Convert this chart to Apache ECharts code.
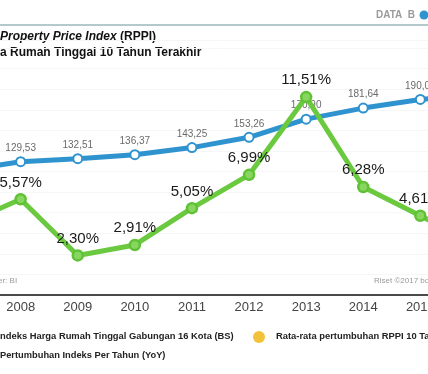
<!DOCTYPE html>
<html><head><meta charset="utf-8">
<script src="https://cdn.jsdelivr.net/npm/echarts@6/dist/echarts.min.js"></script>
<style>html,body{margin:0;padding:0;background:#fff;overflow:hidden;width:428px;height:374px;position:relative}#c{position:absolute;left:-65px;top:0;width:571px;height:374px}</style>
</head><body><div id="c"></div>
<script>
const years = ['2007','2008','2009','2010','2011','2012','2013','2014','2015','2016'];
const indexValues = [121.0, 129.53, 132.51, 136.37, 143.25, 153.26, 170.90, 181.64, 190.01, 195.2];
const yoyValues = [4.1, 5.57, 2.30, 2.91, 5.05, 6.99, 11.51, 6.28, 4.61, 2.9];
const titleLines = ['Property Price Index', '(RPPI)', 'a Rumah Tinggal 10 Tahun Terakhir'];
const legendTexts = ['ndeks Harga Rumah Tinggal Gabungan 16 Kota (BS)', 'Rata-rata pertumbuhan RPPI 10 Tahun', 'Pertumbuhan Indeks Per Tahun (YoY)'];

const fmt = v => v.toFixed(2).replace('.', ',');
const OX = 65; // offset of chart canvas relative to the page
const chart = echarts.init(document.getElementById('c'), null, {renderer:'canvas'});
const FONT = 'Liberation Sans, Arial, sans-serif';
chart.setOption({
  animation: false,
  backgroundColor: '#fff',
  grid: {left: 0, right: 0, top: 40, bottom: 79, containLabel: false},
  xAxis: {
    type: 'category', data: years, boundaryGap: true,
    axisLine: {lineStyle: {color: '#4a4a4a', width: 2}},
    axisTick: {show: false},
    axisLabel: {color: '#444', fontSize: 13, fontFamily: FONT, margin: 6, interval: 0}
  },
  yAxis: [
    {type: 'value', min: 0, max: 247.8, interval: 20, show: true,
      axisLine: {show: false}, axisTick: {show: false}, axisLabel: {show: false},
      splitLine: {show: true, lineStyle: {color: '#f6f6f6', width: 1}}},
    {type: 'value', min: 0, max: 14.83, show: false, splitLine: {show: false}}
  ],
  series: [
    {type: 'line', data: indexValues, yAxisIndex: 0, clip: false, z: 2,
      symbol: 'emptyCircle', symbolSize: 9,
      lineStyle: {color: '#2f93cf', width: 5},
      itemStyle: {color: '#2f93cf', borderColor: '#2f93cf', borderWidth: 3.5},
      label: {show: true, position: 'top', distance: 3, color: '#6a6a6a', fontSize: 10, fontFamily: FONT,
        formatter: p => fmt(p.value)}},
    {type: 'line', data: yoyValues, yAxisIndex: 1, clip: false, z: 3,
      symbol: 'circle', symbolSize: 10,
      lineStyle: {color: '#6ac93f', width: 5},
      itemStyle: {color: '#88d560', borderColor: '#5fc235', borderWidth: 2.5},
      label: {show: true, position: 'top', distance: 3, color: '#1a1a1a', fontSize: 15, fontFamily: FONT,
        formatter: p => fmt(p.value) + '%'}}
  ],
  graphic: [
    {type: 'rect', shape: {x: OX, y: 24, width: 428, height: 2}, style: {fill: '#b4c9cc'}},
    {type: 'text', left: OX + 376, top: 10, style: {text: 'DATA  B', fill: '#9a9a9a', font: 'bold 10px ' + FONT}},
    {type: 'circle', shape: {cx: OX + 424, cy: 15, r: 4.5}, style: {fill: '#2f93cf'}},
    {type: 'text', left: OX, top: 31, style: {rich: {i: {font: 'italic bold 12px ' + FONT, fill: '#111'}, b: {font: 'bold 12px ' + FONT, fill: '#111'}},
      text: '{i|' + titleLines[0] + '} {b|' + titleLines[1] + '}'}},
    {type: 'text', left: OX, top: 47, style: {text: titleLines[2], fill: '#111', font: 'bold 12px ' + FONT}},
    {type: 'text', left: OX - 2, top: 277, style: {text: 'er: BI', fill: '#999', font: '8px ' + FONT}},
    {type: 'text', left: OX + 374, top: 277, style: {text: 'Riset ©2017 bolasalju', fill: '#999', font: '8px ' + FONT}},
    {type: 'text', left: OX, top: 332, style: {text: legendTexts[0], fill: '#222', font: 'bold 9.4px ' + FONT}},
    {type: 'circle', shape: {cx: OX + 259, cy: 337, r: 6}, style: {fill: '#f2c23a'}},
    {type: 'text', left: OX + 276, top: 332, style: {text: legendTexts[1], fill: '#222', font: 'bold 9.4px ' + FONT}},
    {type: 'text', left: OX, top: 351, style: {text: legendTexts[2], fill: '#222', font: 'bold 9.3px ' + FONT}}
  ]
});
</script></body></html>
